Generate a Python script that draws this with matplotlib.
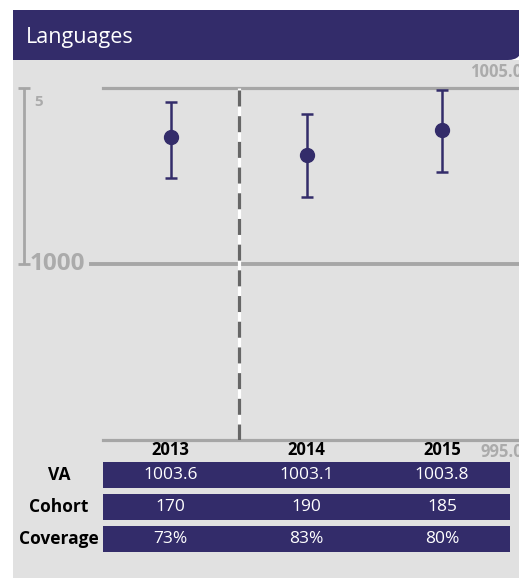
import matplotlib.pyplot as plt
from matplotlib.patches import Rectangle, FancyBboxPatch

plt.rcParams['font.family'] = ['Open Sans', 'DejaVu Sans']
plt.rcParams['lines.scale_dashes'] = False

# data
years = ['2013', '2014', '2015']
va = [1003.6, 1003.1, 1003.8]
va_low = [1002.45, 1001.9, 1002.6]
va_high = [1004.6, 1004.25, 1004.95]
cohort = [170, 190, 185]
coverage = [73, 83, 80]
row_names = ['VA', 'Cohort', 'Coverage']
ymin, ymid, ymax = 995, 1000, 1005

purple = '#332c6a'
grey_line = '#a6a6a6'
grey_txt = '#ababab'
W, H = 519, 578

fig = plt.figure(figsize=(W / 100, H / 100), dpi=100)
fig.patch.set_facecolor('white')

# background layer in pixel coords
bg = fig.add_axes([0, 0, 1, 1])
bg.set_xlim(0, W)
bg.set_ylim(H, 0)
bg.axis('off')
bg.add_patch(Rectangle((13, 60), W, H, color='#e1e1e1', lw=0))
bg.add_patch(Rectangle((13, 10), 490, 50, color=purple, lw=0))
corner = FancyBboxPatch((470, -30), 52, 90, boxstyle='round,pad=0,rounding_size=14',
                        color=purple, lw=0)
bg.add_patch(corner)
corner.set_clip_path(Rectangle((13, 10), W, 50, transform=bg.transData))
bg.text(26, 38, 'Languages', color='white', fontsize=15.5, va='center', ha='left')


def frac(x0, y0, x1, y1):
    return [x0 / W, 1 - y1 / H, (x1 - x0) / W, (y1 - y0) / H]


# main chart
ax = fig.add_axes(frac(103, 88, 510, 440))
ax.set_xlim(-0.5, 2.5)
ax.set_ylim(ymin, ymax)
ax.axis('off')
xs = range(len(years))
yt = ax.get_yaxis_transform()
right = (W - 103) / 407

ax.plot([0, right], [ymax, ymax], transform=yt, color=grey_line, lw=2.3, clip_on=False)
ax.plot([0, right], [ymin, ymin], transform=yt, color=grey_line, lw=2.3, clip_on=False)
ax.plot([-0.03, right], [ymid, ymid], transform=yt, color=grey_line, lw=2.8, clip_on=False)

# dashed divider
ax.plot([0.5, 0.5], [ymin, ymax], color='white', lw=2.3, solid_capstyle='butt')
ax.plot([0.5, 0.5], [ymin, ymax], color='#666666', lw=2.3, dashes=(11.5, 7), dash_capstyle='butt')

# scale bar on left
sx = (24 - 103) / 407
ax.errorbar([sx], [(ymax + ymid) / 2], yerr=[[(ymax - ymid) / 2], [(ymax - ymid) / 2]],
            transform=yt, fmt='none', ecolor=grey_line, elinewidth=2, capsize=4,
            capthick=2, clip_on=False)
ax.text((34 - 103) / 407, 1004.6, str(ymax - ymid), transform=yt, color=grey_txt,
        fontsize=11, fontweight='bold', ha='left', va='center')
ax.text((57 - 103) / 407, ymid, str(ymid), transform=yt, color=grey_txt,
        fontsize=17.5, fontweight='bold', ha='center', va='center')
ax.text((470 - 103) / 407, 1005.45, f'{ymax:.1f}', transform=yt, color=grey_txt,
        fontsize=12, fontweight='bold', ha='left', va='center', clip_on=False)
ax.text((480 - 103) / 407, 994.66, f'{ymin:.1f}', transform=yt, color=grey_txt,
        fontsize=12, fontweight='bold', ha='left', va='center', clip_on=False)

# points with intervals
lo = [v - l for v, l in zip(va, va_low)]
hi = [h - v for v, h in zip(va, va_high)]
ax.errorbar(xs, va, yerr=[lo, hi], fmt='o', color=purple, ms=10, elinewidth=1.8,
            capsize=4.5, capthick=1.8, clip_on=False)

for i, y in enumerate(years):
    ax.text(i, 994.72, y, ha='center', va='center', fontsize=12, fontweight='bold',
            color='black')

# table
tb = fig.add_axes(frac(103, 459, 510, 555))
tb.set_xlim(-0.5, 2.5)
tb.set_ylim(2.5, -0.5)
tb.axis('off')
rows = [[f'{v:.1f}' for v in va], [str(c) for c in cohort], [f'{c}%' for c in coverage]]
tb.barh(range(3), [3.03] * 3, left=-0.515, height=26 / 32, color=purple, lw=0)
ty = tb.get_yaxis_transform()
for r, name in enumerate(row_names):
    tb.text((59 - 103) / 407, r, name, transform=ty, ha='center', va='center',
            fontsize=12.5, fontweight='bold', color='black')
    for i, txt in enumerate(rows[r]):
        tb.text(i, r, txt, ha='center', va='center', fontsize=12.5, color='white')

fig.savefig('out.png', dpi=100)
